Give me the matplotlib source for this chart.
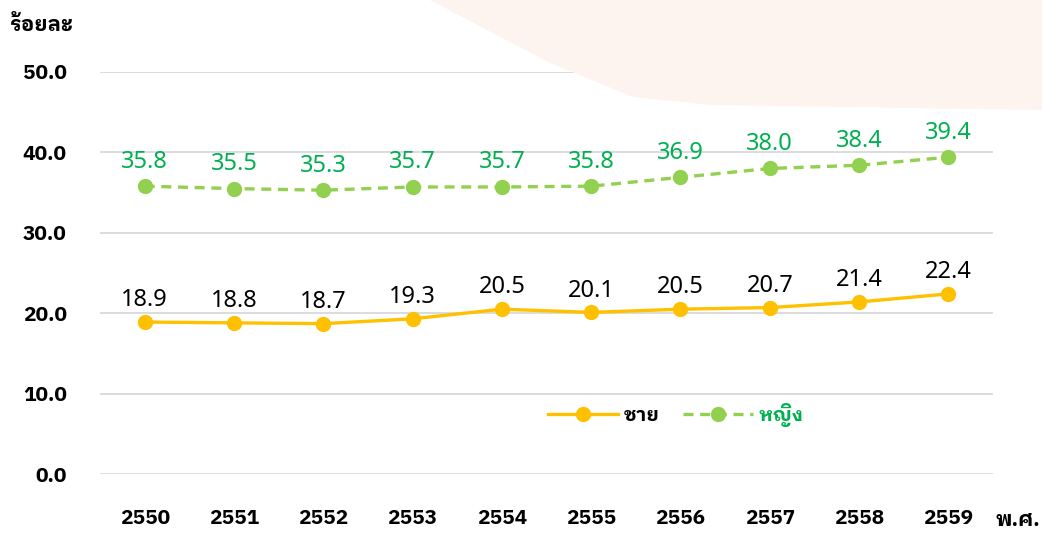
import matplotlib.pyplot as plt
from matplotlib.patches import Polygon
from matplotlib.lines import Line2D

# data
years = ['2550', '2551', '2552', '2553', '2554', '2555', '2556', '2557', '2558', '2559']
male = [18.9, 18.8, 18.7, 19.3, 20.5, 20.1, 20.5, 20.7, 21.4, 22.4]
female = [35.8, 35.5, 35.3, 35.7, 35.7, 35.8, 36.9, 38.0, 38.4, 39.4]
yticks = [0, 10, 20, 30, 40, 50]

plt.rcParams['font.family'] = ['Noto Sans Thai Looped', 'DejaVu Sans']
BOLD = ['IBM Plex Sans Thai Looped', 'Noto Sans Thai Looped', 'DejaVu Sans']

fig = plt.figure(figsize=(10.42, 5.33), dpi=100)
W, H = 1042, 533

# faded decoration top right
bg = Polygon([(430/W, 1), (1, 1), (1, 1-110/H), (710/W, 1-105/H), (633/W, 1-97/H), (550/W, 1-63/H)],
             closed=True, transform=fig.transFigure, facecolor='#fdf4f0', edgecolor='none', zorder=0)
fig.patches.append(bg)

ax = fig.add_axes([100/W, 59/H, 893/W, (474-72)/H])
ax.set_facecolor('none')
x = list(range(len(years)))

ax.plot(x, male, color='#FFC000', lw=2.4, marker='o', ms=10, zorder=3)
ax.plot(x, female, color='#92D050', lw=2.4, ls=(0, (3, 2)), marker='o', ms=10, zorder=3)

for i in x:
    ax.annotate(f'{male[i]:.1f}', (i, male[i]), xytext=(0, 7), textcoords='offset points',
                ha='center', va='bottom', fontsize=17, color='black')
    ax.annotate(f'{female[i]:.1f}', (i, female[i]), xytext=(0, 9), textcoords='offset points',
                ha='center', va='bottom', fontsize=17, color='#00B050')

ax.set_xlim(-0.5, 9.5)
ax.set_ylim(0, 50)
ax.set_yticks(yticks)
ax.set_yticklabels([f'{v:.1f}' for v in yticks], fontsize=15, fontweight='bold', family=BOLD)
ax.set_xticks(x)
ax.set_xticklabels(years, fontsize=15, fontweight='bold', family=BOLD)
ax.tick_params(axis='x', length=0, pad=25)
ax.tick_params(axis='y', length=0, pad=24)
ax.grid(axis='y', color='#d9d9d9', lw=1.3)
ax.set_axisbelow(True)
for s in ax.spines.values():
    s.set_visible(False)

fig.text(10/W, 1-25/H, 'ร้อยละ', fontsize=15, fontweight='bold', family=BOLD, va='center', ha='left')
fig.text(995/W, 1-520/H, 'พ.ศ.', fontsize=15, fontweight='bold', family=BOLD, va='center', ha='left')

h1 = Line2D([], [], color='#FFC000', lw=2.4, marker='o', ms=10)
h2 = Line2D([], [], color='#92D050', lw=2.4, ls=(0, (3, 2)), marker='o', ms=10)
leg = ax.legend([h1, h2], ['ชาย', 'หญิง'], loc='center', bbox_to_anchor=((676-100)/893, 1-(415-72)/402),
                ncol=2, frameon=False, handlelength=3.6, handletextpad=0.3, columnspacing=1.2,
                prop={'size': 14, 'weight': 'bold', 'family': BOLD})
leg.get_texts()[1].set_color('#00B050')

fig.savefig('out.png', dpi=100)
